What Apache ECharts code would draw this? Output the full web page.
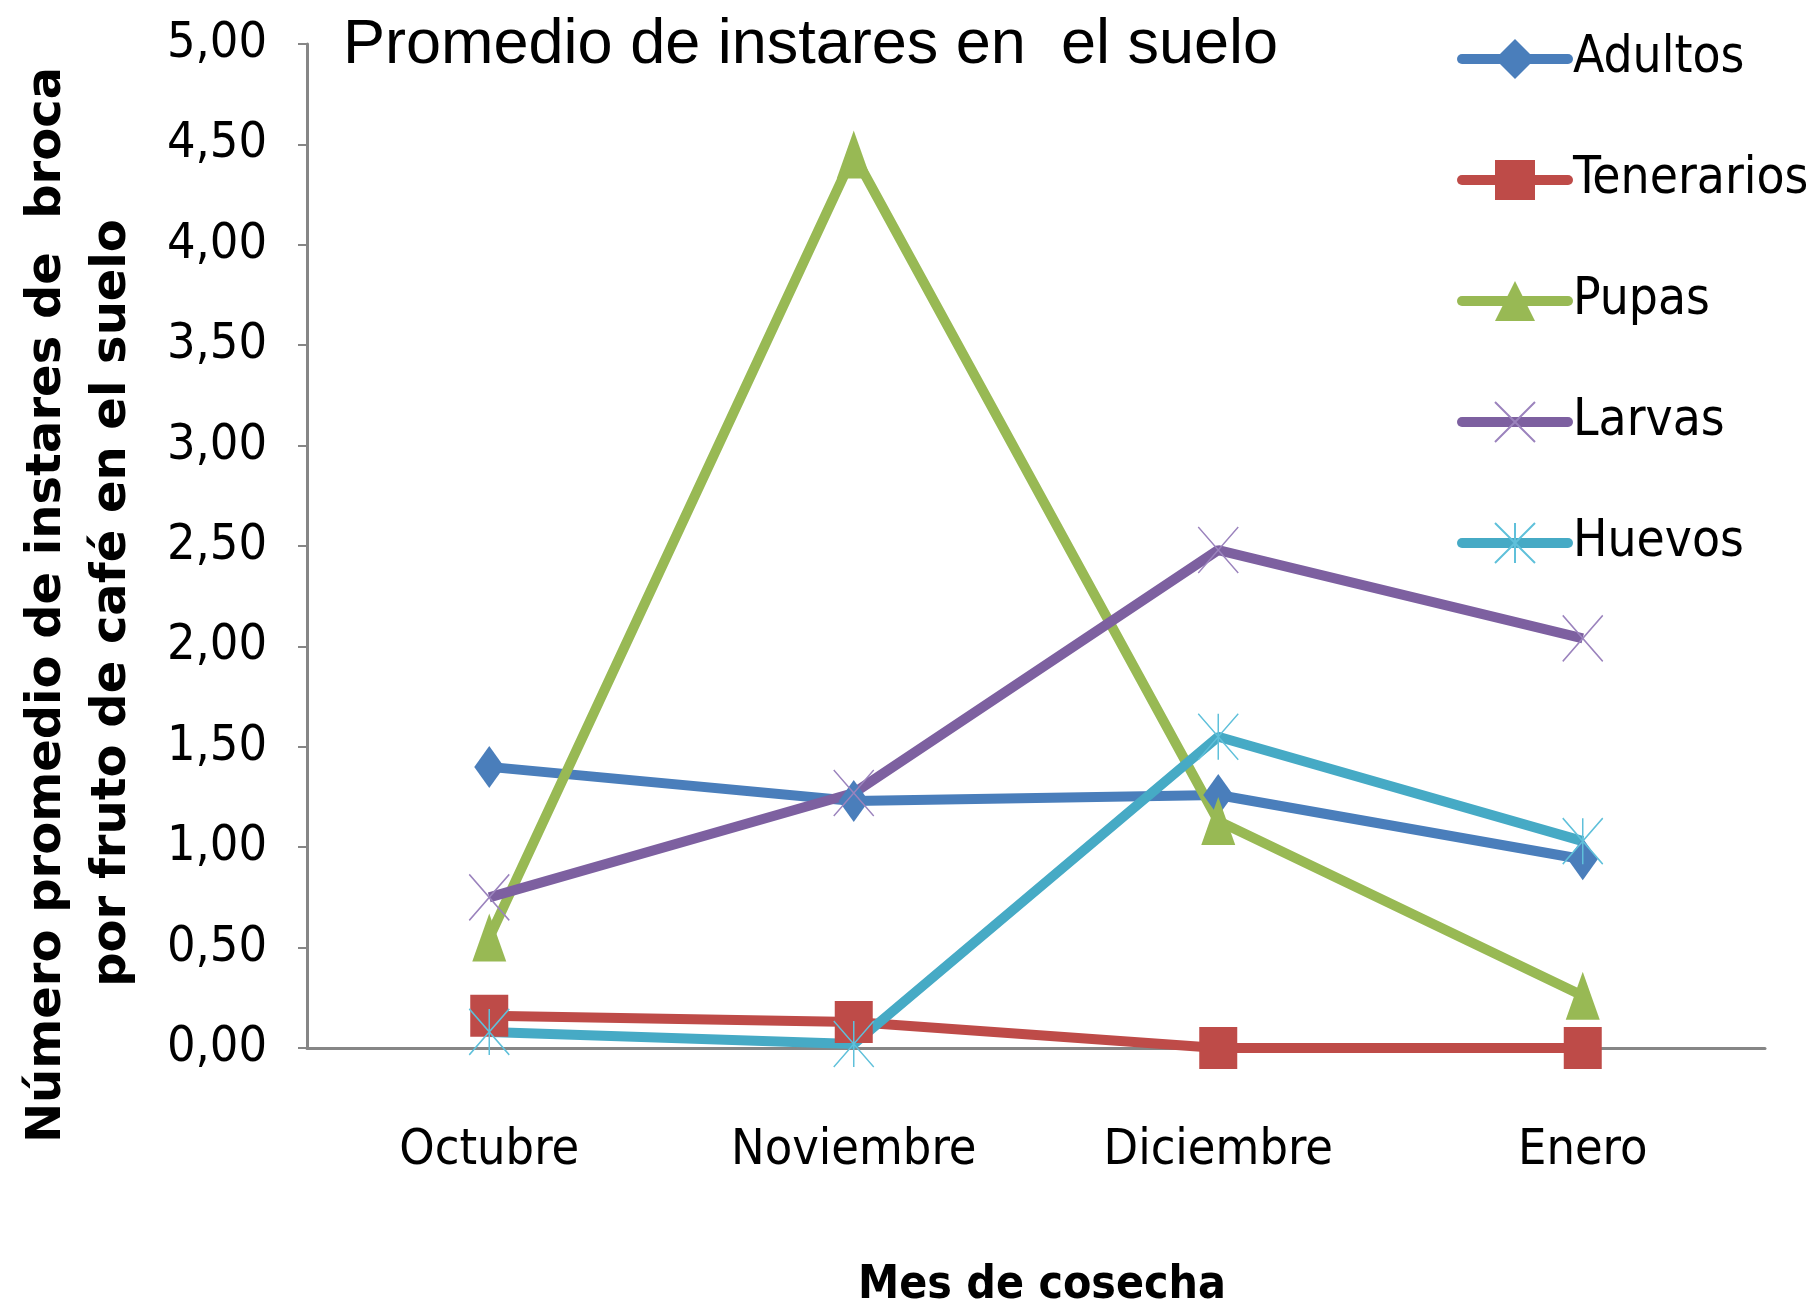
<!DOCTYPE html>
<html>
<head>
<meta charset="utf-8">
<script src="https://cdn.jsdelivr.net/npm/echarts@6/dist/echarts.min.js"></script>
<style>
  html, body { margin: 0; padding: 0; background: #fff; }
  #main { width: 1806px; height: 1315px; }
</style>
</head>
<body>
<div id="main"></div>
<script>
// meses de cosecha
var meses = ['Octubre', 'Noviembre', 'Diciembre', 'Enero']
// promedio de instares por fruto
var adultos = [1.40, 1.23, 1.26, 0.94]
var tenerarios = [0.16, 0.13, 0.00, 0.00]
var pupas = [0.55, 4.45, 1.13, 0.26]
var larvas = [0.75, 1.27, 2.48, 2.04]
var huevos = [0.08, 0.02, 1.55, 1.03]

var narrow = '"Liberation Sans Narrow", "DejaVu Sans Condensed", sans-serif'
var xPath = 'path://M0,0L10,12M10,0L0,12'
var starPath = 'path://M0,0L10,12M10,0L0,12M5,0L5,12'

function serie(name, data, color, symbol, size, markStroke) {
    var s = {
        name: name,
        type: 'line',
        data: data,
        symbol: symbol,
        symbolSize: size,
        lineStyle: { color: color, width: 10 },
        itemStyle: { color: color },
        emphasis: { disabled: true }
    }
    if (markStroke) {
        // marcas de trazo fino (x y asterisco)
        s.itemStyle = { color: 'rgba(0,0,0,0)', borderColor: markStroke, borderWidth: 1.6 }
    }
    return s
}

var myChart = echarts.init(document.getElementById('main'))
var option = {
    animation: false,
    title: {
        text: 'Promedio de instares en  el suelo',
        left: 338,
        top: 9,
        textStyle: { fontFamily: '"Liberation Sans", Arial, sans-serif', fontSize: 63, fontWeight: 'normal', color: '#000' }
    },
    legend: {
        orient: 'vertical',
        left: 1452,
        top: 24,
        itemWidth: 106,
        itemHeight: 50,
        itemGap: 61,
        lineStyle: { width: 10, cap: 'round' },
        textStyle: { fontFamily: narrow, fontSize: 51, lineHeight: 60, color: '#000' },
        data: ['Adultos', 'Tenerarios', 'Pupas', 'Larvas', 'Huevos']
    },
    grid: { left: 307, right: 41, top: 44, bottom: 267 },
    xAxis: {
        type: 'category',
        data: meses,
        axisLine: { lineStyle: { color: '#868686', width: 3 } },
        axisTick: { show: false },
        axisLabel: { fontFamily: narrow, fontSize: 50, color: '#000', margin: 78 }
    },
    yAxis: {
        type: 'value',
        min: 0,
        max: 5,
        interval: 0.5,
        splitLine: { show: false },
        axisLine: { show: true, lineStyle: { color: '#868686', width: 3 } },
        axisTick: { show: true, length: 9, lineStyle: { color: '#868686', width: 2 } },
        axisLabel: {
            fontFamily: narrow, fontSize: 50, color: '#000', margin: 40,
            formatter: function (v) { return v.toFixed(2).replace('.', ',') }
        }
    },
    graphic: [
        {
            type: 'text', x: 48, y: 605, rotation: Math.PI / 2,
            style: { text: 'Número promedio de instares de  broca', font: 'bold 48px "DejaVu Sans", sans-serif', fill: '#000', align: 'center', verticalAlign: 'middle' }
        },
        {
            type: 'text', x: 113, y: 603, rotation: Math.PI / 2,
            style: { text: 'por fruto de café en el suelo', font: 'bold 48px "DejaVu Sans", sans-serif', fill: '#000', align: 'center', verticalAlign: 'middle' }
        },
        {
            type: 'text', x: 1042, y: 1286,
            style: { text: 'Mes de cosecha', font: 'bold 46px ' + narrow, fill: '#000', align: 'center', verticalAlign: 'middle' }
        }
    ],
    series: [
        serie('Adultos', adultos, '#4A7EBB', 'diamond', [30, 42]),
        serie('Tenerarios', tenerarios, '#BE4B48', 'rect', [38, 42]),
        serie('Pupas', pupas, '#98B954', 'triangle', [34, 48]),
        serie('Larvas', larvas, '#7D60A0', xPath, [40, 46], '#9B83BD'),
        serie('Huevos', huevos, '#46AAC5', starPath, [40, 46], '#5FC0DA')
    ]
}
myChart.setOption(option)
</script>
</body>
</html>
